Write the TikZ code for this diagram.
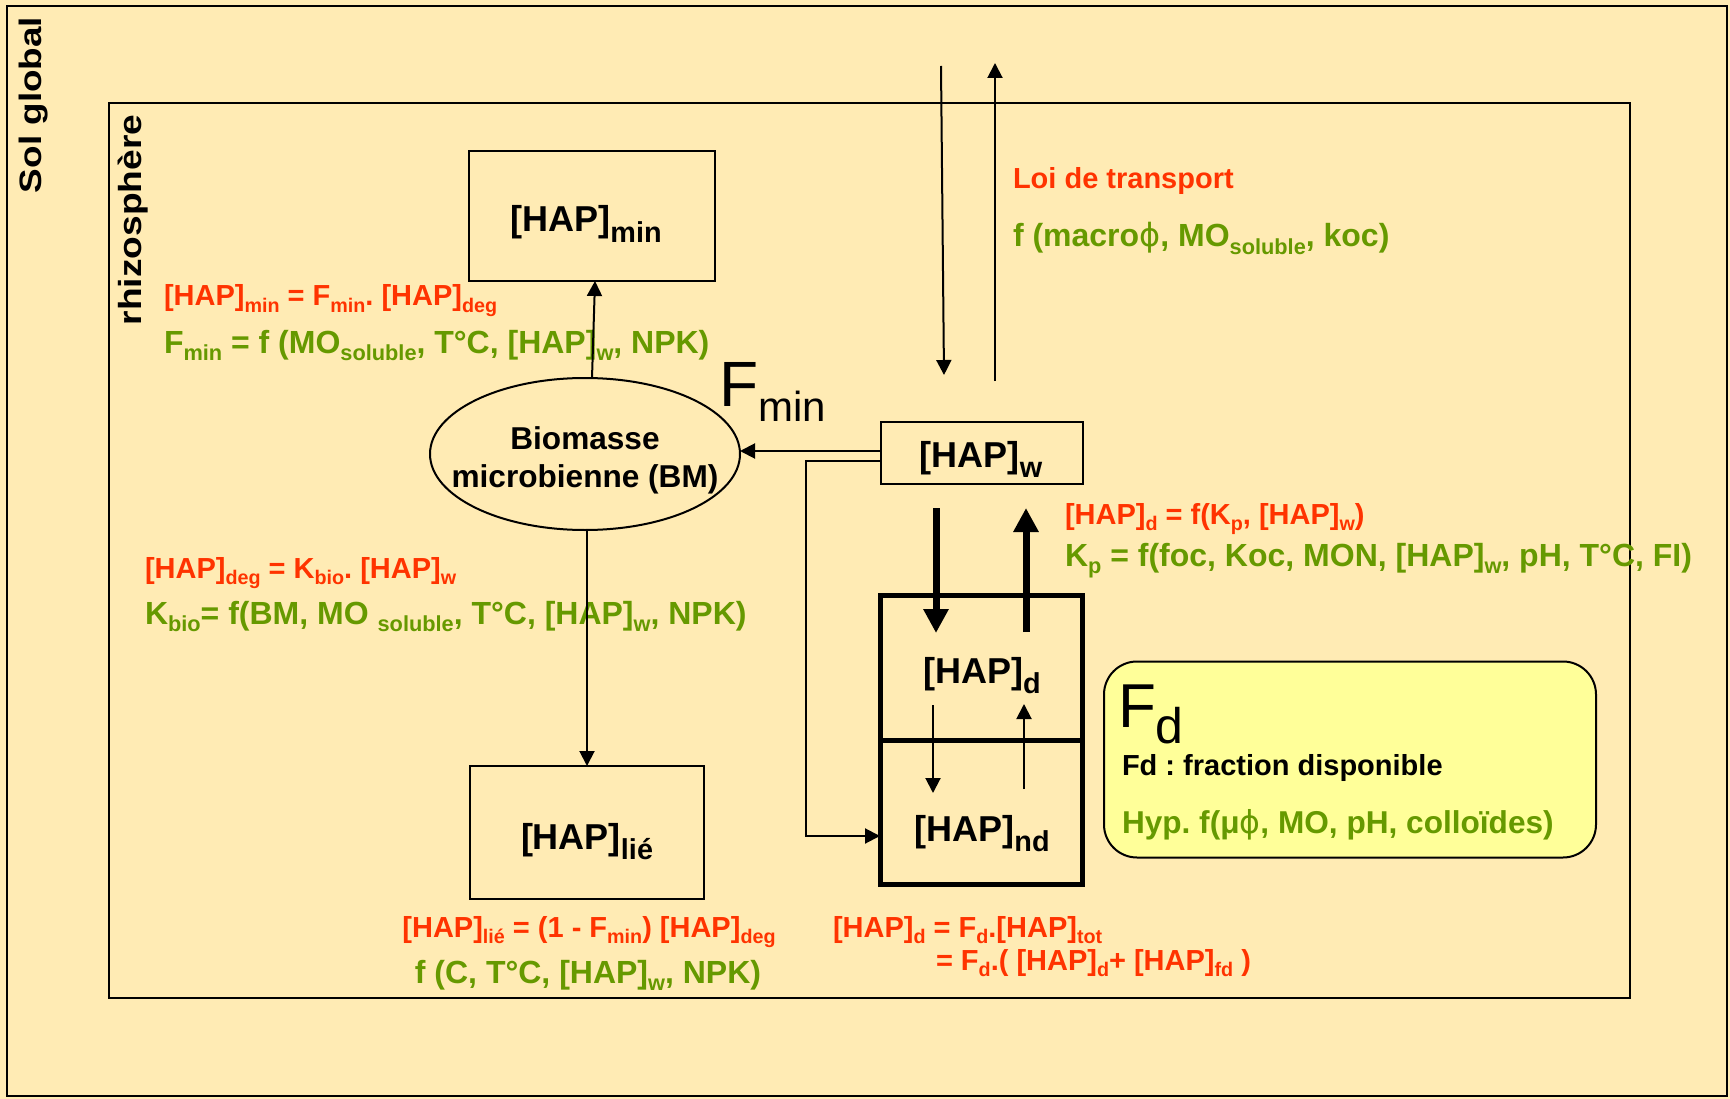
\documentclass[tikz,border=0pt]{standalone}
\usepackage{fontspec}
\usepackage{graphicx}
\setmainfont{Liberation Sans}
\newfontfamily\phifont{DejaVu Sans}
\usetikzlibrary{arrows.meta,shapes.geometric}
\definecolor{bg}{HTML}{FFEBB4}
\definecolor{rd}{HTML}{FF3300}
\definecolor{gn}{HTML}{669900}
\definecolor{fdfill}{HTML}{FFFF99}
\newcommand\sbx[1]{\raisebox{-0.22em}{\scalebox{0.68}{#1}}}
\newcommand\nsb[1]{\raisebox{-0.3em}{\scalebox{0.8}{#1}}}
\newcommand\fs[1]{\fontsize{#1}{#1}\selectfont}
\newcommand\phis{{\mdseries\phifont ϕ}}
\frenchspacing
\begin{document}
\begin{tikzpicture}[x=1pt,y=-1pt,inner sep=0pt,outer sep=0pt,
  frm/.style={draw,line width=2pt},
  box/.style={draw,line width=2pt,rectangle,fill=none},
  thickbox/.style={draw,line width=5pt,rectangle},
  arr/.style={line width=2pt,-{Triangle[length=15pt,width=15pt]}},
  thickarr/.style={line width=7pt,-{Triangle[length=24pt,width=24pt]}},
  nodetxt/.style={font=\bfseries\fs{36},anchor=base},
  redf/.style={text=rd,font=\bfseries\fs{29},anchor=base west},
  grnf/.style={text=gn,font=\bfseries\fs{32},anchor=base west},
  redc/.style={text=rd,font=\bfseries\fs{29},anchor=base},
  grnc/.style={text=gn,font=\bfseries\fs{32},anchor=base}]
\useasboundingbox (0,0) rectangle (1730,1099);
\fill[bg] (0,0) rectangle (1730,1099);
% frames
\draw[frm] (7,6) rectangle (1727,1096);
\draw[frm] (109,103) rectangle (1630,998);
\node[rotate=90,font=\bfseries\fs{31}] (solg) at (34,105) {\scalebox{1.19}[1]{Sol global}};
\node[rotate=90,font=\bfseries\fs{32}] (rhizo) at (133,220) {\scalebox{1.16}[1]{rhizosphère}};
% boxes
\node[box,minimum width=246pt,minimum height=130pt] (minbox) at (592,216) {};
\node[nodetxt] (mintxt) at (586,232) {[HAP]\nsb{min}};
\node[box,minimum width=234pt,minimum height=133pt] (liebox) at (587,832.5) {};
\node[nodetxt] (lietxt) at (587,849) {[HAP]\nsb{lié}};
\node[box,minimum width=202pt,minimum height=62pt] (wbox) at (982,453) {};
\node[nodetxt] (wtxt) at (981,467) {[HAP]\nsb{w}};
\node[thickbox,minimum width=202pt,minimum height=145pt] (dbox) at (981,667.5) {};
\node[nodetxt] (dtxt) at (982,683) {[HAP]\nsb{d}};
\node[thickbox,minimum width=202pt,minimum height=144pt] (ndbox) at (981,812) {};
\node[nodetxt] (ndtxt) at (982,841) {[HAP]\nsb{nd}};
\node[ellipse,draw,line width=2pt,minimum width=310pt,minimum height=152pt] (bm) at (585,454) {};
\node[align=center,font=\bfseries\fontsize{31.6}{38}\selectfont] (bmtxt) at (585,460) {Biomasse\\microbienne (BM)};
% Fd box
\node[draw,fill=fdfill,line width=2pt,rounded corners=33pt,minimum width=492pt,minimum height=196pt] (fdbox) at (1350,759.5) {};
\node[anchor=base west,font=\mdseries\fs{62}] (fdbig) at (1118,727) {F\raisebox{-16pt}{\fs{50}d}};
\node[anchor=base west,font=\bfseries\fs{29}] (fdtxt) at (1122,775) {Fd : fraction disponible};
\node[grnf,font=\bfseries\fs{31.6}] (hyp) at (1122,833) {Hyp. f(μ\phis, MO, pH, colloïdes)};
% big Fmin
\node[anchor=base west,font=\mdseries\fs{64}] (fminbig) at (719,406) {F\raisebox{-16pt}{\fs{42}min}};
% formulas
\node[redf] (f1) at (164,306) {[HAP]\sbx{min} = F\sbx{min}. [HAP]\sbx{deg}};
\node[grnf] (f2) at (164,353) {F\sbx{min} = f (MO\sbx{soluble}, T°C, [HAP]\sbx{w}, NPK)};
\node[redf] (f3) at (145,578) {[HAP]\sbx{deg} = K\sbx{bio}. [HAP]\sbx{w}};
\node[grnf] (f4) at (145,624) {K\sbx{bio}= f(BM, MO \sbx{soluble}, T°C, [HAP]\sbx{w}, NPK)};
\node[redc] (f5) at (589,937) {[HAP]\sbx{lié} = (1 - F\sbx{min}) [HAP]\sbx{deg}};
\node[grnc] (f6) at (588,983) {f (C, T°C, [HAP]\sbx{w}, NPK)};
\node[redf] (f7) at (833,937) {[HAP]\sbx{d} = F\sbx{d}.[HAP]\sbx{tot}};
\node[redf] (f8) at (936,970) {= F\sbx{d}.( [HAP]\sbx{d}+ [HAP]\sbx{fd} )};
\node[redf] (f9) at (1013,189) {Loi de transport};
\node[grnf] (f10) at (1013,247) {f (macro\phis, MO\sbx{soluble}, koc)};
\node[redf] (f11) at (1065,524) {[HAP]\sbx{d} = f(K\sbx{p}, [HAP]\sbx{w})};
\node[grnf] (f12) at (1065,566) {K\sbx{p} = f(foc, Koc, MON, [HAP]\sbx{w}, pH, T°C, FI)};
% connectors
\draw[arr] ([xshift=7pt]bm.north) -- ([xshift=3pt]minbox.south);
\draw[arr] ([xshift=2pt]bm.south) -- ([xshift=0pt]liebox.north);
\draw[arr] ([yshift=2pt]wbox.west) -- ([yshift=3pt]bm.east);
\draw[arr] ([yshift=-8pt]wbox.west) -- ++(-75,0) |- ([yshift=-24pt]ndbox.west);
\draw[thickarr] ([xshift=-46pt,yshift=-24pt]wbox.south) -- ([xshift=-45pt,yshift=-38pt]dbox.north);
\draw[thickarr] ([xshift=45pt,yshift=-37pt]dbox.north) -- ([xshift=44pt,yshift=-24pt]wbox.south);
\draw[arr] ([xshift=-48pt,yshift=35pt]dbox.south) -- ([xshift=-48pt,yshift=-53pt]ndbox.north);
\draw[arr] ([xshift=43pt,yshift=-49pt]ndbox.north) -- ([xshift=43pt,yshift=36pt]dbox.south);
\coordinate (tin) at (941,66);
\coordinate (tinend) at (944,375);
\coordinate (tout0) at (995,381);
\coordinate (tout) at (995,63);
\draw[arr] (tin) -- (tinend);
\draw[arr] (tout0) -- (tout);
\end{tikzpicture}
\end{document}
